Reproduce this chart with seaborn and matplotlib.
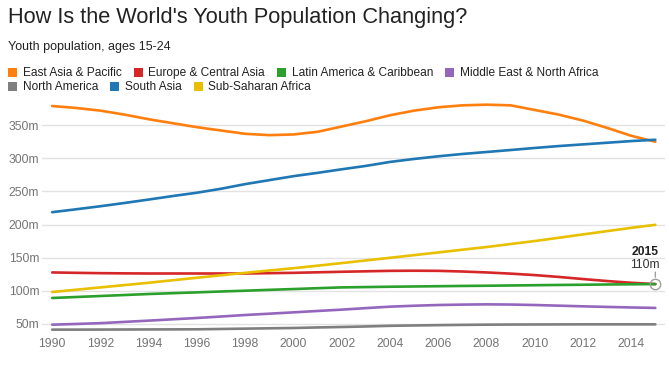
import matplotlib
matplotlib.use('Agg')
import matplotlib.pyplot as plt
import seaborn as sns
import pandas as pd
from matplotlib.patches import Rectangle

years = list(range(1990, 2016))
regions = ["East Asia & Pacific", "Europe & Central Asia", "Latin America & Caribbean",
           "Middle East & North Africa", "North America", "South Asia", "Sub-Saharan Africa"]
colors = ["#ff7f0e", "#d62728", "#2ca02c", "#9467bd", "#7f7f7f", "#1f77b4", "#e8c000"]

east_asia = [379, 376, 372, 366, 359, 353, 347, 342, 337, 335, 336, 340, 348, 356, 365, 372,
             377, 380, 381, 380, 373, 366, 357, 346, 334, 325]
europe = [127.6, 127, 126.5, 126.2, 126, 126, 126, 126, 126, 126.5, 127, 127.8, 128.6, 129.3,
          130, 130.2, 130, 129, 127.6, 125.8, 123.6, 120.8, 117.6, 114.6, 112, 110]
latin = [89, 90.5, 92, 93.5, 95, 96.3, 97.5, 98.8, 100, 101.3, 102.5, 103.8, 105, 105.5, 106,
         106.4, 106.8, 107.2, 107.5, 107.9, 108.3, 108.7, 109, 109.4, 109.7, 110]
mena = [48.7, 49.8, 51, 52.9, 54.8, 56.8, 58.8, 61, 63.3, 65.3, 67.3, 69.4, 71.4, 73.7, 75.9,
        77.3, 78.4, 79, 79.4, 79.1, 78.4, 77.4, 76.4, 75.5, 74.7, 74]
north_america = [41.2, 41.2, 41.3, 41.4, 41.5, 41.6, 41.7, 42.2, 42.7, 43.2, 43.7, 44.5, 45.2,
                 46, 47, 47.5, 48, 48.4, 48.7, 48.9, 49, 49.1, 49.2, 49.2, 49.2, 49.2]
south_asia = [218.6, 223, 227.6, 232.5, 237.7, 243, 248, 254, 261, 267, 273, 278, 283.4, 288.5,
              294.5, 299, 303, 306.5, 309.5, 312.5, 315.6, 318.5, 321, 323.5, 326, 328]
sub_saharan = [98, 101.5, 105, 108.5, 112, 115.8, 119.6, 123.3, 127, 130.5, 134, 137.8, 141.7,
               145.7, 149.7, 153.7, 157.8, 161.9, 166, 170.5, 175, 180, 185, 190, 195, 199.5]

series = [east_asia, europe, latin, mena, north_america, south_asia, sub_saharan]
y_ticks = [50, 100, 150, 200, 250, 300, 350]
x_ticks = list(range(1990, 2015, 2))
highlight_year, highlight_value = 2015, 110

rows = []
for name, vals in zip(regions, series):
    for yr, v in zip(years, vals):
        rows.append({"year": yr, "value": v, "region": name})
df = pd.DataFrame(rows)

sns.set_theme(style="white")
plt.rcParams['font.family'] = ['Liberation Sans', 'DejaVu Sans']

fig = plt.figure(figsize=(6.69, 3.73), dpi=100)
ax = fig.add_axes([0.0628, 0.1088, 0.994 - 0.0628, 0.7247 - 0.1088])

sns.lineplot(data=df, x="year", y="value", hue="region", hue_order=regions,
             palette=dict(zip(regions, colors)), linewidth=1.9, legend=False, ax=ax)

ax.set_xlim(1989.58, 2015.4)
ax.set_ylim(37, 384)
ax.set_yticks(y_ticks)
ax.set_yticklabels([f"{v}m" for v in y_ticks])
ax.set_xticks(x_ticks)
ax.set_xticklabels([str(v) for v in x_ticks])
ax.grid(axis='y', color='#e3e3e3', linewidth=1)
ax.grid(axis='x', visible=False)
ax.set_axisbelow(True)
for s in ax.spines.values():
    s.set_visible(False)
ax.tick_params(axis='both', length=0, labelsize=8.7, labelcolor='#757575')
ax.tick_params(axis='y', pad=2)
ax.tick_params(axis='x', pad=4)
ax.set_xlabel("")
ax.set_ylabel("")

# highlight marker
ax.plot([highlight_year], [highlight_value], marker='o', markersize=7.5,
        markerfacecolor='none', markeredgecolor='#a0a0a0', markeredgewidth=1, zorder=5)
ax.annotate("", xy=(highlight_year, highlight_value), xytext=(0, 12), textcoords='offset pixels',
            arrowprops=dict(arrowstyle='-', color='#a0a0a0', lw=1, shrinkA=0, shrinkB=5))
ax.annotate(f"{highlight_value}m", xy=(highlight_year, highlight_value), xytext=(-10, 19),
            textcoords='offset pixels', ha='center', va='center', fontsize=8.7, color='#333333')
ax.annotate(str(highlight_year), xy=(highlight_year, highlight_value), xytext=(-10, 32),
            textcoords='offset pixels', ha='center', va='center', fontsize=8.7,
            fontweight='bold', color='#222222')

W, H = 669, 373
fig.text(8 / W, 1 - 18 / H, "How Is the World's Youth Population Changing?", fontsize=15.7,
         color='#222222', ha='left', va='center')
fig.text(8 / W, 1 - 47 / H, "Youth population, ages 15-24", fontsize=9.0,
         color='#222222', ha='left', va='center')

# legend (flow layout)
fig.canvas.draw()
renderer = fig.canvas.get_renderer()
legend_rows = [regions[:4], regions[4:]]
row_y = [72.7, 86.7]
sq = 9
for r, names in enumerate(legend_rows):
    x = 8.3
    yc = row_y[r]
    for name in names:
        c = colors[regions.index(name)]
        fig.patches.append(Rectangle((x / W, 1 - (yc + sq / 2) / H), sq / W, sq / H,
                                     transform=fig.transFigure, facecolor=c, edgecolor='none'))
        t = fig.text((x + sq + 5.4) / W, 1 - yc / H, name, fontsize=8.6, color='#222222',
                     ha='left', va='center')
        w = t.get_window_extent(renderer).width
        x = x + sq + 5.4 + w + 12.3

fig.savefig("out.png", dpi=100)
